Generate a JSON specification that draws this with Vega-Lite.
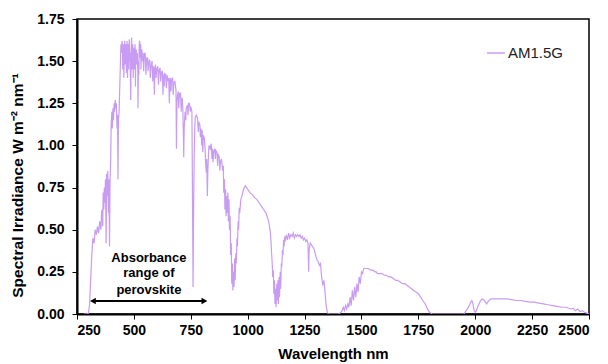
{
  "$schema": "https://vega.github.io/schema/vega-lite/v6.json",
  "width": 512,
  "height": 295,
  "autosize": "none",
  "padding": {"left": 77, "top": 19, "right": 19, "bottom": 50},
  "background": "white",
  "datasets": {
    "spec": [
      {"w":280,"v":0},{"w":290,"v":0},{"w":295,"v":0},{"w":300,"v":0.005},{"w":305,"v":0.05},{"w":310,"v":0.2},{"w":315,"v":0.35},{"w":320,"v":0.45},{"w":325,"v":0.42},{"w":330,"v":0.5},{"w":335,"v":0.47},{"w":340,"v":0.52},{"w":345,"v":0.48},{"w":350,"v":0.55},{"w":355,"v":0.5},{"w":358,"v":0.6},{"w":360,"v":0.62},{"w":363,"v":0.52},{"w":365,"v":0.72},{"w":368,"v":0.62},{"w":370,"v":0.75},{"w":373,"v":0.66},{"w":375,"v":0.8},{"w":378,"v":0.42},{"w":380,"v":0.83},{"w":383,"v":0.7},{"w":385,"v":0.85},{"w":388,"v":0.6},{"w":390,"v":0.8},{"w":393,"v":0.4},{"w":395,"v":0.78},{"w":398,"v":0.9},{"w":400,"v":1.12},{"w":403,"v":1.2},{"w":405,"v":1.1},{"w":408,"v":1.22},{"w":410,"v":1.15},{"w":413,"v":1.25},{"w":415,"v":1.2},{"w":418,"v":1.27},{"w":420,"v":1.22},{"w":423,"v":1.25},{"w":426,"v":1.1},{"w":428,"v":1.18},{"w":430,"v":0.8},{"w":432,"v":1.15},{"w":435,"v":1.2},{"w":438,"v":1.35},{"w":440,"v":1.45},{"w":443,"v":1.6},{"w":445,"v":1.55},{"w":448,"v":1.62},{"w":450,"v":1.58},{"w":453,"v":1.5},{"w":455,"v":1.6},{"w":458,"v":1.55},{"w":460,"v":1.62},{"w":463,"v":1.57},{"w":465,"v":1.6},{"w":468,"v":1.55},{"w":470,"v":1.62},{"w":473,"v":1.5},{"w":475,"v":1.6},{"w":478,"v":1.58},{"w":480,"v":1.63},{"w":483,"v":1.55},{"w":486,"v":1.27},{"w":488,"v":1.55},{"w":490,"v":1.64},{"w":493,"v":1.58},{"w":495,"v":1.6},{"w":498,"v":1.52},{"w":500,"v":1.58},{"w":503,"v":1.5},{"w":505,"v":1.6},{"w":508,"v":1.55},{"w":510,"v":1.57},{"w":513,"v":1.48},{"w":515,"v":1.55},{"w":518,"v":1.22},{"w":520,"v":1.5},{"w":523,"v":1.58},{"w":525,"v":1.62},{"w":528,"v":1.52},{"w":530,"v":1.6},{"w":533,"v":1.55},{"w":535,"v":1.57},{"w":538,"v":1.5},{"w":540,"v":1.55},{"w":545,"v":1.52},{"w":550,"v":1.54},{"w":555,"v":1.5},{"w":560,"v":1.52},{"w":565,"v":1.48},{"w":570,"v":1.5},{"w":575,"v":1.46},{"w":580,"v":1.5},{"w":585,"v":1.47},{"w":590,"v":1.3},{"w":592,"v":1.45},{"w":595,"v":1.48},{"w":600,"v":1.46},{"w":605,"v":1.47},{"w":610,"v":1.43},{"w":615,"v":1.46},{"w":620,"v":1.42},{"w":625,"v":1.44},{"w":628,"v":1.3},{"w":630,"v":1.42},{"w":635,"v":1.43},{"w":640,"v":1.4},{"w":645,"v":1.42},{"w":650,"v":1.38},{"w":653,"v":1.4},{"w":656,"v":1.25},{"w":658,"v":1.38},{"w":660,"v":1.4},{"w":665,"v":1.38},{"w":670,"v":1.4},{"w":675,"v":1.36},{"w":680,"v":1.38},{"w":685,"v":1.33},{"w":687,"v":0.98},{"w":689,"v":1.25},{"w":692,"v":1.3},{"w":695,"v":1.32},{"w":700,"v":1.3},{"w":705,"v":1.31},{"w":710,"v":1.28},{"w":715,"v":1.22},{"w":717,"v":1.1},{"w":719,"v":0.93},{"w":721,"v":1.1},{"w":723,"v":1.15},{"w":725,"v":1.2},{"w":730,"v":1.22},{"w":735,"v":1.24},{"w":740,"v":1.25},{"w":745,"v":1.24},{"w":750,"v":1.23},{"w":755,"v":1.2},{"w":758,"v":0.6},{"w":760,"v":0.16},{"w":762,"v":0.55},{"w":765,"v":0.95},{"w":768,"v":1.12},{"w":770,"v":1.17},{"w":775,"v":1.18},{"w":780,"v":1.16},{"w":785,"v":1.14},{"w":790,"v":1.12},{"w":795,"v":1.1},{"w":800,"v":1.09},{"w":805,"v":1.06},{"w":810,"v":1.04},{"w":813,"v":0.98},{"w":815,"v":0.9},{"w":818,"v":0.84},{"w":820,"v":0.92},{"w":823,"v":0.7},{"w":825,"v":0.85},{"w":828,"v":0.95},{"w":830,"v":1.0},{"w":835,"v":0.98},{"w":840,"v":1.01},{"w":845,"v":0.98},{"w":850,"v":0.96},{"w":855,"v":0.98},{"w":860,"v":0.97},{"w":865,"v":0.96},{"w":870,"v":0.95},{"w":875,"v":0.93},{"w":880,"v":0.9},{"w":885,"v":0.92},{"w":890,"v":0.85},{"w":893,"v":0.88},{"w":895,"v":0.72},{"w":898,"v":0.8},{"w":900,"v":0.62},{"w":903,"v":0.74},{"w":905,"v":0.58},{"w":908,"v":0.7},{"w":910,"v":0.6},{"w":913,"v":0.72},{"w":915,"v":0.55},{"w":918,"v":0.68},{"w":920,"v":0.5},{"w":923,"v":0.58},{"w":925,"v":0.35},{"w":928,"v":0.42},{"w":930,"v":0.18},{"w":933,"v":0.3},{"w":935,"v":0.14},{"w":938,"v":0.25},{"w":940,"v":0.16},{"w":943,"v":0.33},{"w":945,"v":0.2},{"w":948,"v":0.36},{"w":950,"v":0.3},{"w":953,"v":0.45},{"w":955,"v":0.4},{"w":958,"v":0.55},{"w":960,"v":0.5},{"w":963,"v":0.63},{"w":965,"v":0.6},{"w":970,"v":0.68},{"w":975,"v":0.7},{"w":980,"v":0.73},{"w":985,"v":0.75},{"w":990,"v":0.76},{"w":995,"v":0.75},{"w":1000,"v":0.74},{"w":1010,"v":0.72},{"w":1020,"v":0.71},{"w":1030,"v":0.69},{"w":1040,"v":0.68},{"w":1050,"v":0.66},{"w":1060,"v":0.64},{"w":1070,"v":0.62},{"w":1075,"v":0.61},{"w":1080,"v":0.6},{"w":1085,"v":0.58},{"w":1090,"v":0.56},{"w":1095,"v":0.53},{"w":1100,"v":0.48},{"w":1103,"v":0.42},{"w":1105,"v":0.36},{"w":1108,"v":0.3},{"w":1110,"v":0.22},{"w":1113,"v":0.26},{"w":1115,"v":0.12},{"w":1118,"v":0.2},{"w":1120,"v":0.06},{"w":1123,"v":0.15},{"w":1125,"v":0.04},{"w":1128,"v":0.18},{"w":1130,"v":0.08},{"w":1133,"v":0.2},{"w":1135,"v":0.06},{"w":1138,"v":0.22},{"w":1140,"v":0.1},{"w":1143,"v":0.25},{"w":1145,"v":0.15},{"w":1148,"v":0.3},{"w":1150,"v":0.28},{"w":1153,"v":0.38},{"w":1155,"v":0.35},{"w":1158,"v":0.44},{"w":1160,"v":0.4},{"w":1163,"v":0.46},{"w":1165,"v":0.43},{"w":1170,"v":0.47},{"w":1175,"v":0.44},{"w":1180,"v":0.48},{"w":1185,"v":0.45},{"w":1190,"v":0.47},{"w":1195,"v":0.46},{"w":1200,"v":0.48},{"w":1205,"v":0.45},{"w":1210,"v":0.47},{"w":1215,"v":0.46},{"w":1220,"v":0.47},{"w":1225,"v":0.46},{"w":1230,"v":0.47},{"w":1235,"v":0.45},{"w":1240,"v":0.46},{"w":1245,"v":0.44},{"w":1250,"v":0.45},{"w":1255,"v":0.43},{"w":1260,"v":0.44},{"w":1265,"v":0.42},{"w":1268,"v":0.25},{"w":1270,"v":0.38},{"w":1275,"v":0.42},{"w":1280,"v":0.41},{"w":1285,"v":0.4},{"w":1290,"v":0.39},{"w":1295,"v":0.37},{"w":1300,"v":0.34},{"w":1305,"v":0.32},{"w":1310,"v":0.31},{"w":1315,"v":0.29},{"w":1320,"v":0.3},{"w":1325,"v":0.22},{"w":1330,"v":0.17},{"w":1335,"v":0.2},{"w":1340,"v":0.13},{"w":1345,"v":0.05},{"w":1350,"v":0.01},{"w":1355,"v":0},{"w":1400,"v":0},{"w":1410,"v":0.01},{"w":1415,"v":0.02},{"w":1420,"v":0.04},{"w":1425,"v":0.02},{"w":1430,"v":0.05},{"w":1435,"v":0.03},{"w":1440,"v":0.06},{"w":1445,"v":0.04},{"w":1450,"v":0.1},{"w":1455,"v":0.05},{"w":1460,"v":0.14},{"w":1465,"v":0.08},{"w":1470,"v":0.16},{"w":1475,"v":0.1},{"w":1480,"v":0.18},{"w":1485,"v":0.13},{"w":1490,"v":0.22},{"w":1495,"v":0.18},{"w":1500,"v":0.25},{"w":1505,"v":0.24},{"w":1510,"v":0.27},{"w":1520,"v":0.27},{"w":1530,"v":0.27},{"w":1540,"v":0.26},{"w":1550,"v":0.26},{"w":1560,"v":0.25},{"w":1565,"v":0.25},{"w":1570,"v":0.24},{"w":1580,"v":0.24},{"w":1590,"v":0.24},{"w":1600,"v":0.23},{"w":1610,"v":0.23},{"w":1620,"v":0.22},{"w":1630,"v":0.22},{"w":1640,"v":0.21},{"w":1650,"v":0.2},{"w":1660,"v":0.2},{"w":1670,"v":0.19},{"w":1680,"v":0.18},{"w":1690,"v":0.18},{"w":1700,"v":0.17},{"w":1710,"v":0.16},{"w":1720,"v":0.15},{"w":1730,"v":0.14},{"w":1740,"v":0.13},{"w":1750,"v":0.12},{"w":1760,"v":0.1},{"w":1770,"v":0.08},{"w":1780,"v":0.06},{"w":1790,"v":0.03},{"w":1800,"v":0.01},{"w":1810,"v":0},{"w":1950,"v":0},{"w":1955,"v":0.01},{"w":1960,"v":0.02},{"w":1970,"v":0.04},{"w":1980,"v":0.07},{"w":1985,"v":0.08},{"w":1990,"v":0.06},{"w":1995,"v":0.02},{"w":2000,"v":0.01},{"w":2005,"v":0.02},{"w":2010,"v":0.04},{"w":2020,"v":0.07},{"w":2030,"v":0.09},{"w":2040,"v":0.08},{"w":2050,"v":0.06},{"w":2060,"v":0.08},{"w":2070,"v":0.09},{"w":2080,"v":0.09},{"w":2100,"v":0.09},{"w":2120,"v":0.09},{"w":2140,"v":0.09},{"w":2160,"v":0.085},{"w":2180,"v":0.08},{"w":2200,"v":0.08},{"w":2220,"v":0.075},{"w":2240,"v":0.07},{"w":2260,"v":0.07},{"w":2280,"v":0.065},{"w":2300,"v":0.06},{"w":2320,"v":0.055},{"w":2340,"v":0.05},{"w":2360,"v":0.045},{"w":2380,"v":0.04},{"w":2400,"v":0.04},{"w":2420,"v":0.03},{"w":2430,"v":0.035},{"w":2440,"v":0.02},{"w":2450,"v":0.03},{"w":2460,"v":0.015},{"w":2470,"v":0.02},{"w":2480,"v":0.01},{"w":2490,"v":0.005},{"w":2500,"v":0},
      {"w":451,"v":1.45},{"w":456,"v":1.4},{"w":462,"v":1.48},{"w":467,"v":1.43},{"w":472,"v":1.4},{"w":477,"v":1.45},{"w":482,"v":1.5},{"w":492,"v":1.45},{"w":497,"v":1.4},{"w":502,"v":1.45},{"w":507,"v":1.35},{"w":512,"v":1.52},{"w":517,"v":1.45},{"w":522,"v":1.42},{"w":527,"v":1.6},
      {"w":531,"v":1.45},{"w":543,"v":1.44},{"w":547,"v":1.55},{"w":553,"v":1.42},{"w":557,"v":1.52},{"w":562,"v":1.44},{"w":568,"v":1.51},{"w":572,"v":1.4},{"w":578,"v":1.49},{"w":583,"v":1.38},{"w":588,"v":1.46},{"w":598,"v":1.4},{"w":603,"v":1.45},{"w":608,"v":1.36},{"w":612,"v":1.45},{"w":618,"v":1.38},{"w":623,"v":1.44},{"w":633,"v":1.35},{"w":638,"v":1.42},{"w":643,"v":1.34},{"w":648,"v":1.4},{"w":663,"v":1.32},{"w":668,"v":1.4},{"w":673,"v":1.3},{"w":678,"v":1.38},{"w":697,"v":1.22},{"w":702,"v":1.31},{"w":708,"v":1.2},{"w":712,"v":1.28},{"w":728,"v":1.15},{"w":733,"v":1.23},{"w":738,"v":1.18},{"w":743,"v":1.25},{"w":748,"v":1.2},
      {"w":783,"v":1.08},{"w":792,"v":1.05},{"w":798,"v":1.0},{"w":803,"v":0.96},{"w":843,"v":0.92},{"w":848,"v":0.9},{"w":858,"v":0.92},{"w":868,"v":0.88},{"w":878,"v":0.85}
    ],
    "notes": [
      {"w": 566, "v": 0.332, "t": "Absorbance"},
      {"w": 566, "v": 0.243, "t": "range of"},
      {"w": 566, "v": 0.142, "t": "perovskite"}
    ],
    "arrow": [{"a": 318, "b": 812, "v": 0.077}],
    "heads": [
      {"w": 320, "v": 0.077, "s": "triangle-left"},
      {"w": 810, "v": 0.077, "s": "triangle-right"}
    ]
  },
  "layer": [
    {
      "data": {"name": "spec"},
      "mark": {"type": "line", "strokeWidth": 1.2, "clip": true},
      "encoding": {
        "x": {
          "field": "w", "type": "quantitative",
          "scale": {"domain": [250, 2500], "nice": false},
          "axis": {"values": [250, 500, 750, 1000, 1250, 1500, 1750, 2000, 2250, 2500], "format": "d", "title": "Wavelength nm", "titlePadding": 9}
        },
        "y": {
          "field": "v", "type": "quantitative",
          "scale": {"domain": [0, 1.75], "nice": false},
          "axis": {"values": [0, 0.25, 0.5, 0.75, 1, 1.25, 1.5, 1.75], "format": ".2f", "title": "Spectral Irradiance W m⁻² nm⁻¹", "titlePadding": 11, "titleY": 166, "titleFontSize": 15.5}
        },
        "color": {
          "datum": "AM1.5G",
          "scale": {"range": ["#c89cf3"]},
          "legend": {
            "orient": "none", "legendX": 409, "legendY": 24, "title": null,
            "symbolType": "stroke", "symbolSize": 320, "symbolStrokeWidth": 1.5,
            "labelFontSize": 15, "labelColor": "#222", "labelFont": "Liberation Sans", "labelOffset": 2
          }
        }
      }
    },
    {
      "data": {"name": "notes"},
      "mark": {"type": "text", "font": "Liberation Sans", "fontWeight": "bold", "fontSize": 13, "color": "#000", "baseline": "middle", "align": "center"},
      "encoding": {
        "x": {"field": "w", "type": "quantitative"},
        "y": {"field": "v", "type": "quantitative"},
        "text": {"field": "t"}
      }
    },
    {
      "data": {"name": "arrow"},
      "mark": {"type": "rule", "strokeWidth": 1.8, "color": "#000"},
      "encoding": {
        "x": {"field": "a", "type": "quantitative"},
        "x2": {"field": "b"},
        "y": {"field": "v", "type": "quantitative"}
      }
    },
    {
      "data": {"name": "heads"},
      "mark": {"type": "point", "filled": true, "color": "#000", "size": 45, "opacity": 1},
      "encoding": {
        "x": {"field": "w", "type": "quantitative"},
        "y": {"field": "v", "type": "quantitative"},
        "shape": {"field": "s", "type": "nominal", "scale": {"domain": ["triangle-left", "triangle-right"], "range": ["triangle-left", "triangle-right"]}, "legend": null}
      }
    }
  ],
  "config": {
    "font": "Liberation Sans",
    "view": {"stroke": "#000", "strokeWidth": 1.5},
    "axis": {
      "grid": false,
      "domainColor": "#000", "domainWidth": 2,
      "tickColor": "#000", "tickSize": 5, "tickWidth": 1,
      "labelFont": "Liberation Sans", "labelFontWeight": "bold", "labelFontSize": 14, "labelColor": "#000",
      "titleFont": "Liberation Sans", "titleFontWeight": "bold", "titleFontSize": 15, "titleColor": "#000"
    },
    "axisY": {"labelPadding": 8},
    "axisX": {"labelPadding": 4}
  }
}
